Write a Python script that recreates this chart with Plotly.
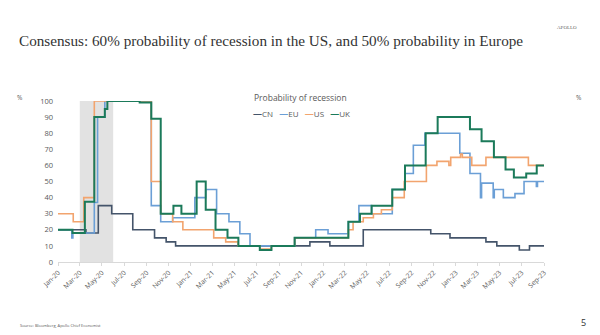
import plotly.graph_objects as go

# ---------------- data (step series, value holds until next date) ----------------
cn_dates = ["2020-01-01", "2020-03-18", "2020-04-21", "2020-05-28", "2020-07-25", "2020-09-23",
            "2020-10-25", "2020-11-20", "2021-11-25", "2022-01-19", "2022-04-21", "2022-10-24",
            "2022-12-16", "2023-03-25", "2023-04-24", "2023-06-25", "2023-07-23", "2023-09-01"]
cn_vals = [20, 18, 35, 30, 20, 15, 12.5, 10, 12.5, 10, 20, 17.5, 15, 12.5, 10, 7.5, 10, 10]

eu_dates = ["2020-01-01", "2020-02-08", "2020-02-11", "2020-04-10", "2020-04-19", "2020-05-09",
            "2020-09-14", "2020-10-10", "2020-11-12", "2021-01-12", "2021-02-11", "2021-03-13",
            "2021-04-16", "2021-05-16", "2021-06-13", "2021-10-14", "2021-12-11", "2022-01-14",
            "2022-03-11", "2022-04-09", "2022-05-14", "2022-07-10", "2022-08-14", "2022-09-06",
            "2022-10-08", "2023-01-12", "2023-02-09", "2023-03-10", "2023-03-13", "2023-04-14",
            "2023-04-17", "2023-05-12", "2023-06-13", "2023-07-08", "2023-08-11", "2023-08-14",
            "2023-09-01"]
eu_vals = [20, 15, 18, 37, 90, 100,
           35, 25, 27.5, 40, 45, 30,
           25, 17.5, 10, 15, 20, 17.5,
           25, 35, 30, 45, 55, 72.5,
           80, 67.5, 55, 40, 49, 40,
           45, 40, 42.5, 50, 47, 50,
           50]

us_dates = ["2020-01-01", "2020-02-12", "2020-03-12", "2020-04-10", "2020-09-14", "2020-10-10",
            "2020-11-12", "2020-12-10", "2021-03-05", "2021-04-07", "2021-05-11", "2021-07-10",
            "2021-08-11", "2021-10-14", "2022-03-11", "2022-03-24", "2022-04-21", "2022-05-19",
            "2022-06-10", "2022-07-10", "2022-08-12", "2022-10-12", "2022-11-10", "2022-12-13",
            "2022-12-18", "2023-01-14", "2023-01-19", "2023-02-14", "2023-03-25", "2023-07-20",
            "2023-09-01"]
us_vals = [30, 25, 40, 100, 50, 30,
           25, 20, 15, 12.5, 10, 8,
           10, 15, 20, 25, 27.5, 30,
           32.5, 40, 50, 60, 62.5, 60,
           65, 67, 65, 60, 65, 60,
           60]

uk_dates = ["2020-01-01", "2020-02-10", "2020-03-15", "2020-04-10", "2020-05-09", "2020-05-16",
            "2020-08-13", "2020-09-14", "2020-10-10", "2020-11-14", "2020-12-06", "2021-01-17",
            "2021-02-11", "2021-03-10", "2021-04-12", "2021-05-12", "2021-07-10", "2021-08-11",
            "2021-10-14", "2022-03-11", "2022-04-12", "2022-05-14", "2022-07-10", "2022-08-14",
            "2022-10-10", "2022-11-12", "2023-02-09", "2023-03-13", "2023-04-16", "2023-05-18",
            "2023-06-10", "2023-07-14", "2023-08-12", "2023-09-01"]
uk_vals = [20, 18, 37.5, 90, 95, 100,
           99, 89, 30, 35, 30, 50,
           32.5, 20, 15, 10, 7.5, 10,
           15, 25, 30, 35, 45, 60,
           80, 90, 82.5, 75, 65, 57.5,
           52.5, 55, 60, 60]

series_names = ["CN", "EU", "US", "UK"]
series_colors = ["#44546a", "#6b9fd6", "#f2a46e", "#1b7a5a"]
series_widths = [1.6, 1.6, 1.6, 2.0]
recession = ["2020-03-01", "2020-06-01"]
x_range = ["2020-01-01", "2023-09-01"]

title_text = "Consensus: 60% probability of recession in the US, and 50% probability in Europe"
chart_title = "Probability of recession"
source_text = "Source: Bloomberg, Apollo Chief Economist"

# ---------------- figure ----------------
fig = go.Figure()
all_dates = [cn_dates, eu_dates, us_dates, uk_dates]
all_vals = [cn_vals, eu_vals, us_vals, uk_vals]
for name, d, v, c, w in zip(series_names, all_dates, all_vals, series_colors, series_widths):
    fig.add_trace(go.Scatter(x=d, y=v, name=name, mode="lines", line_shape="hv",
                             line=dict(color=c, width=w), showlegend=False))

fig.add_shape(type="rect", xref="x", yref="y", x0=recession[0], x1=recession[1], y0=0, y1=100,
              fillcolor="#e2e2e2", line=dict(width=0), layer="below")

axis_font = dict(family="Open Sans, sans-serif", size=7.5, color="#595959")
fig.update_layout(
    width=600, height=335, autosize=False,
    paper_bgcolor="white", plot_bgcolor="white",
    margin=dict(l=58, r=56, t=101, b=73),
    xaxis=dict(type="date", range=x_range, tick0="2020-01-01", dtick="M2", tickformat="%b-%y",
               tickangle=-45, tickfont=dict(family="Open Sans, sans-serif", size=6.8, color="#595959"),
               showgrid=False, zeroline=False, showline=True, linecolor="#d9d9d9", linewidth=1,
               ticks="outside", ticklen=3, tickcolor="#d9d9d9"),
    yaxis=dict(range=[0, 100], dtick=10, showgrid=False, zeroline=False, showline=False,
               tickfont=axis_font, ticks="", ticklabelstandoff=4),
    yaxis2=dict(range=[0, 100], dtick=10, showgrid=False, zeroline=False, showline=False,
                overlaying="y", side="right", tickfont=axis_font, ticks="", ticklabelstandoff=4),
    showlegend=False,
)

def px_x(px):
    return (px - 58) / 486.0

def px_y(py):
    return (262 - py) / 161.0

# legend drawn as one centred text line: coloured dash + series name
legend_html = "   ".join(
    f"<span style='color:{c};font-size:9px'><b>—</b></span>{n}" for n, c in zip(series_names, series_colors))

annots = [
    dict(text=title_text, x=px_x(17), y=px_y(41), xanchor="left",
         font=dict(family="Liberation Serif, serif", size=15.2, color="#333333")),
    dict(text="APOLLO", x=px_x(567), y=px_y(27), font=dict(family="Liberation Serif, serif", size=5, color="#666666")),
    dict(text="%", x=px_x(20), y=px_y(97), font=dict(family="Open Sans, sans-serif", size=6.5, color="#595959")),
    dict(text="%", x=px_x(579), y=px_y(97), font=dict(family="Open Sans, sans-serif", size=6.5, color="#595959")),
    dict(text=chart_title, x=px_x(300), y=px_y(97), font=dict(family="Open Sans, sans-serif", size=8.5, color="#595959")),
    dict(text=legend_html, x=px_x(301), y=px_y(113), font=dict(family="Open Sans, sans-serif", size=8, color="#595959")),
    dict(text=source_text, x=px_x(18), y=px_y(325), xanchor="left", font=dict(family="Open Sans, sans-serif", size=4, color="#555555")),
    dict(text="5", x=px_x(583), y=px_y(322), font=dict(family="Open Sans, sans-serif", size=9, color="#333333")),
]
for a in annots:
    a.setdefault("xref", "paper")
    a.setdefault("yref", "paper")
    a.setdefault("showarrow", False)
    a.setdefault("xanchor", "center")
    a.setdefault("yanchor", "middle")
    fig.add_annotation(**a)

fig.write_html("out.html")
